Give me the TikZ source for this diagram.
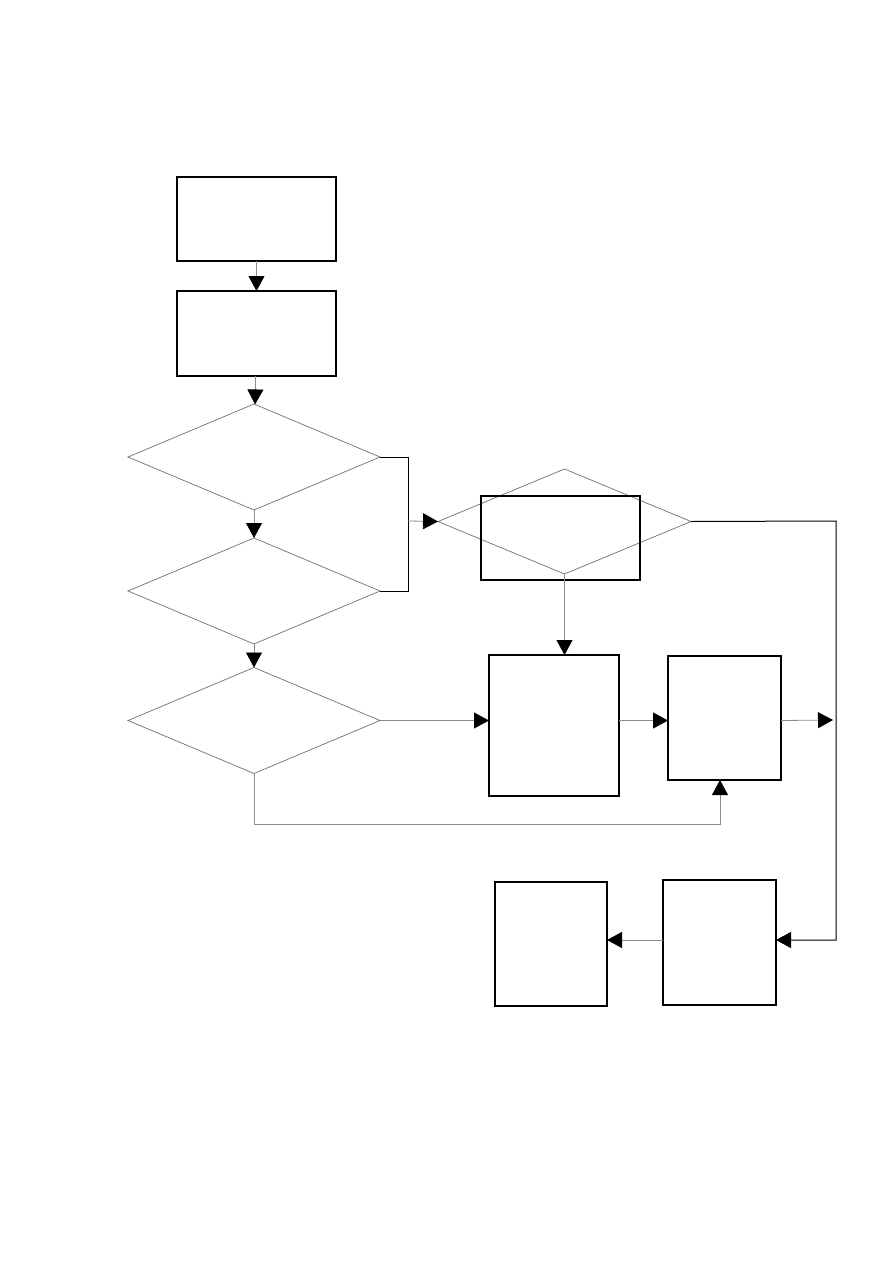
\documentclass[tikz,border=0pt]{standalone}
\usepackage{tikz}
\usetikzlibrary{arrows.meta, positioning, shapes.geometric}
\definecolor{line_col}{RGB}{140, 140, 140}
\definecolor{dia_col}{RGB}{110, 110, 110}

\begin{document}
\begin{tikzpicture}[
    x=1pt, y=-1pt,
    box/.style={rectangle, draw=black, line width=1.1pt, inner sep=0pt, outer sep=0pt},
    dec/.style={diamond, draw=dia_col, line width=0.7pt, inner sep=0pt, outer sep=0pt,
                minimum width=252pt, minimum height=106pt},
    conn/.style={draw=line_col, line width=0.8pt,
                 -{Triangle[length=15pt, width=16pt, color=black]}},
    rail/.style={draw=black, line width=1pt},
]
  \useasboundingbox (0,0) rectangle (893,1263);

  % left column
  \node[box, minimum width=159pt, minimum height=84pt] (start) at (256.5,219) {};
  \node[box, minimum width=159pt, minimum height=85pt, below=30pt of start] (prep) {};
  \node[dec] (chk1) at (254,457) {};
  \node[dec] (chk2) at (254,591) {};
  \node[dec] (chk3) at (254,720.5) {};

  % right part
  \node[dec, minimum width=253pt, minimum height=105pt] (chk4) at (564.5,521.5) {};
  \node[box, minimum width=159pt, minimum height=84pt] (over) at (560.5,538) {};
  \node[box, minimum width=130pt, minimum height=141pt] (proc) at (554,725.5) {};
  \node[box, minimum width=113pt, minimum height=124pt] (post) at (724.5,718) {};
  \node[box, minimum width=113pt, minimum height=125pt] (save) at (719.5,942.5) {};
  \node[box, minimum width=112pt, minimum height=124pt] (done) at (551,944) {};

  \coordinate (join) at (408,521);
  \coordinate (edge) at (836,521);
  \coordinate (low) at (836,940);
  \coordinate (out) at (833,720);
  \coordinate (loop) at (720,824);

  \draw[conn] (start) -- (prep);
  \draw[conn] (prep) -- (chk1);
  \draw[conn] (chk1) -- (chk2);
  \draw[conn] (chk2) -- (chk3);

  \draw[rail] (chk1.east) -| (join |- chk2.east) -- (chk2.east);
  \draw[conn] (join) -- (chk4.west);
  \draw[rail, -{Triangle[length=15pt, width=16pt]}] (chk4.east) -- (edge) -- (low) -- (low -| save.east);

  \draw[conn] (chk4.south) -- (chk4.south |- proc.north);
  \draw[conn] (chk3.east) -- (chk3.east -| proc.west);
  \draw[conn] (proc.east |- chk3.east) -- (post.west |- chk3.east);
  \draw[conn] (post.east |- chk3.east) -- (out);
  \draw[conn] (chk3.south) |- (loop) -- (loop |- post.south);
  \draw[conn] (low -| save.west) -- (low -| done.east);
\end{tikzpicture}
\end{document}
